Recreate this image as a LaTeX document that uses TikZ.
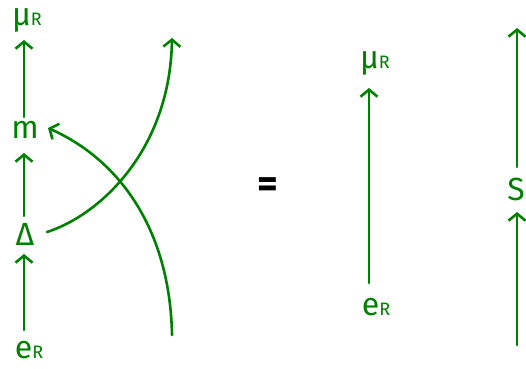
\documentclass[tikz,border=0pt]{standalone}
\usepackage{fontspec}
\setmainfont{Fira Sans}
\usetikzlibrary{arrows.meta}
\definecolor{grn}{RGB}{0,128,0}
\newcommand{\smR}{{\fontsize{18}{18}\selectfont R}}
\tikzset{
  lbl/.style={text=grn, font=\fontsize{32}{32}\selectfont, inner sep=0pt, outer sep=0pt},
  arr/.style={draw=grn, line width=2.6pt, line cap=round, -{Straight Barb[length=7pt,width=17pt,line width=2.6pt]}},
}
\begin{document}
\begin{tikzpicture}[x=1pt,y=-1pt]
\useasboundingbox (0,0) rectangle (526,368);
% left diagram
\node[lbl] (muR) at (27,20) {μ\smR};
\node[lbl] (m) at (25,130) {m};
\node[lbl] (D) at (25,234) {Δ};
\node[lbl] (eR) at (29,350) {e\smR};
\coordinate (mtop) at (24,117);
\coordinate (mbot) at (24,153);
\coordinate (Dtop) at (24,216);
\coordinate (Dbot) at (24,254);
\coordinate (eRtop) at (24,330);
\coordinate (muRbot) at (24,40);
\coordinate (Dright) at (47,232);
\coordinate (c1end) at (172,38);
\coordinate (c2start) at (172,335);
\coordinate (mright) at (48,128);
\draw[arr] (mtop) -- (muRbot);
\draw[arr] (Dtop) -- (mbot);
\draw[arr] (eRtop) -- (Dbot);
\draw[arr] (Dright) .. controls (100,215) and (170,150) .. (c1end);
\draw[arr] (c2start) .. controls (170,230) and (120,160) .. (mright);
% equals
\node[font=\fontsize{40}{40}\selectfont\bfseries, text=black, inner sep=0pt] (eq) at (268,188) {=};
% middle
\node[lbl] (muR2) at (375,63) {μ\smR};
\node[lbl] (eR2) at (376,307) {e\smR};
\coordinate (eR2top) at (369,283);
\coordinate (muR2bot) at (369,88);
\draw[arr] (eR2top) -- (muR2bot);
% right
\node[lbl] (S) at (516,189) {S};
\coordinate (Stop) at (517,167);
\coordinate (Sbot) at (517,212);
\coordinate (Rtop) at (517,28);
\coordinate (Rbot) at (517,345);
\draw[arr] (Stop) -- (Rtop);
\draw[arr] (Rbot) -- (Sbot);
\end{tikzpicture}
\end{document}
